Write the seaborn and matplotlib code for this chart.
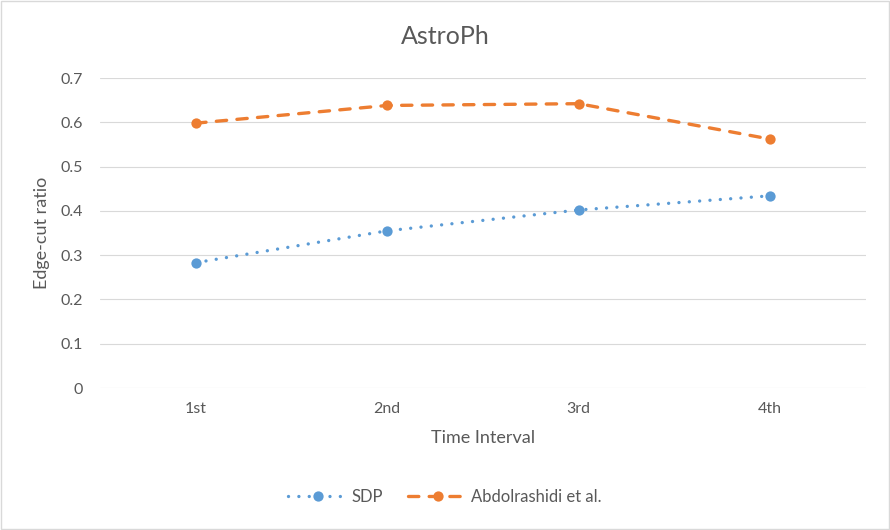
import numpy as np
import pandas as pd
import matplotlib.pyplot as plt
import seaborn as sns

sns.set_theme(style='white')
plt.rcParams['font.family'] = ['Lato', 'DejaVu Sans']

intervals = ["1st", "2nd", "3rd", "4th"]
sdp = [0.283, 0.355, 0.402, 0.434]
abdolrashidi = [0.598, 0.638, 0.642, 0.562]
series_names = ["SDP", "Abdolrashidi et al."]

df = pd.DataFrame({
    "interval": intervals * 2,
    "ratio": sdp + abdolrashidi,
    "method": [series_names[0]] * 4 + [series_names[1]] * 4,
})

fig = plt.figure(figsize=(8.9, 5.3), dpi=100)
ax = fig.add_axes([100 / 890, 142 / 530, 766 / 890, 310 / 530])

palette = {"SDP": "#5B9BD5", "Abdolrashidi et al.": "#ED7D31"}
dashes = {"SDP": (0.01, 3.1), "Abdolrashidi et al.": (3.1, 3.1)}
sns.lineplot(data=df, x="interval", y="ratio", hue="method", style="method",
             palette=palette, dashes=dashes, markers={"SDP": "o", "Abdolrashidi et al.": "o"},
             markersize=7.4, markeredgewidth=0, linewidth=2.4,
             dash_capstyle='round', solid_capstyle='round', ax=ax, sort=False)

ax.set_xlim(-0.5, 3.5)
ax.set_ylim(0, 0.7)
ax.set_yticks(np.arange(0, 0.71, 0.1))
ax.set_yticklabels(["0"] + ["%.1f" % v for v in np.arange(0.1, 0.71, 0.1)])
ax.grid(axis='y', color='#D9D9D9', linewidth=0.8)
ax.set_axisbelow(True)
for s in ax.spines.values():
    s.set_visible(False)
ax.tick_params(axis='both', colors='#595959', labelsize=11.5, length=0, pad=12)
ax.tick_params(axis='x', pad=10)

ax.set_xlabel("Time Interval", fontsize=13, color='#595959', labelpad=10)
ax.set_ylabel("Edge-cut ratio", fontsize=13, color='#595959', labelpad=8)
fig.text(0.5, 1 - 37 / 530, "AstroPh", ha='center', va='center', fontsize=18, color='#595959')

handles, labels = ax.get_legend_handles_labels()
ax.get_legend().remove()
fig.legend(handles, labels, loc='center', bbox_to_anchor=(0.5, 1 - 497 / 530), ncol=2, frameon=False,
           fontsize=12, handlelength=3.6, handletextpad=0.2, columnspacing=1.5, labelcolor='#595959')

fig.add_artist(plt.Rectangle((0.001, 0.001), 0.998, 0.998, transform=fig.transFigure,
                             fill=False, edgecolor='#D9D9D9', linewidth=1))

fig.savefig("out.png", dpi=100)
